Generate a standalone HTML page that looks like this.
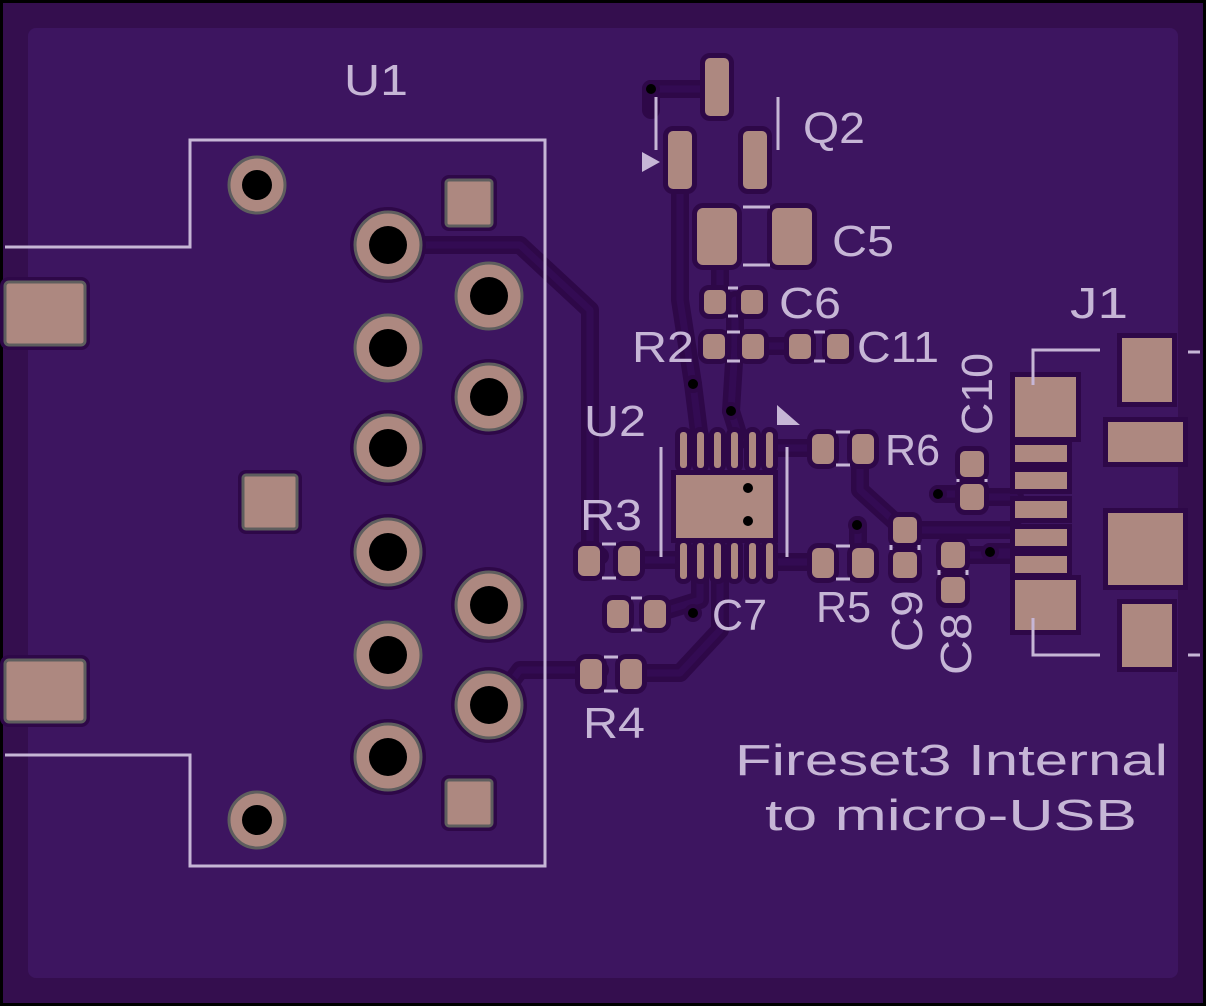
<!DOCTYPE html>
<html><head><meta charset="utf-8"><style>
html,body{margin:0;padding:0;background:#000}
svg{display:block}
text{font-family:"Liberation Sans",sans-serif;fill:#c6b6d6}
</style></head><body>
<svg width="1206" height="1006" viewBox="0 0 1206 1006" xmlns="http://www.w3.org/2000/svg">
<rect x="0" y="0" width="1206" height="1006" fill="#000"/>
<rect x="3" y="3" width="1200" height="1000" fill="#340e4e"/>
<rect x="28" y="28" width="1150" height="950" rx="8" fill="#3d1560"/>

<!-- traces (clearance + copper) -->
<g fill="none" stroke-linejoin="round" stroke-linecap="round">
<g stroke="#2e0848" stroke-width="18">
<path d="M410 245 H520 L590 310 V556 H600"/>
<path d="M505 690 L520 670 H600"/>
<path d="M651 89 H716"/><path d="M651 89 V110"/>
<path d="M680 180 V300 L693 384 L700 440"/>
<path d="M720 250 V300 M735 300 V346 L731 411 L740 440"/>
<path d="M753 346 H805"/>
<path d="M640 560 H683 M700 575 V600 L655 614"/>
<path d="M631 673 H680 L720 630 V575"/>
<path d="M858 448 H860 V490 L904 530 M904 530 H1015"/>
<path d="M858 562 V525"/>
<path d="M938 494 H972 M972 497 H1015"/>
<path d="M953 555 H1015 M990 552 H1015"/>
<path d="M770 562 H825 M770 448 H825"/>
</g>
<g stroke="#330b53" stroke-width="7">
<path d="M410 245 H520 L590 310 V556 H600"/>
<path d="M505 690 L520 670 H600"/>
<path d="M651 89 H716"/>
<path d="M680 180 V300 L693 384 L700 440"/>
<path d="M720 250 V300 M735 300 V346 L731 411 L740 440"/>
<path d="M753 346 H805"/>
<path d="M640 560 H683 M700 575 V600 L655 614"/>
<path d="M631 673 H680 L720 630 V575"/>
<path d="M858 448 H860 V490 L904 530 M904 530 H1015"/>
<path d="M858 562 V525"/>
<path d="M938 494 H972 M972 497 H1015"/>
<path d="M953 555 H1015 M990 552 H1015"/>
<path d="M770 562 H825 M770 448 H825"/>
</g>
</g>

<!-- U1 silkscreen -->
<path d="M5 247 H190 V140 H545 V866 H190 V755 H5" fill="none" stroke="#c6b6d6" stroke-width="3"/>
<text x="344" y="95" font-size="44" textLength="64" lengthAdjust="spacingAndGlyphs">U1</text>

<!-- U1 pads -->
<g stroke="#2e0848" stroke-width="10" fill="#2e0848">
<circle cx="388" cy="245" r="33"/><circle cx="388" cy="448" r="33"/>
<circle cx="388" cy="552" r="33"/><circle cx="388" cy="757" r="33"/>
<circle cx="489" cy="397" r="33"/><circle cx="489" cy="605" r="33"/><circle cx="489" cy="705" r="33"/>
<rect x="446" y="180" width="46" height="46" rx="3"/>
<rect x="243" y="475" width="54" height="54" rx="3"/>
<rect x="446" y="780" width="46" height="46" rx="3"/>
<rect x="5" y="282" width="80" height="63" rx="4"/>
<rect x="5" y="660" width="80" height="62" rx="4"/>
</g>
<g stroke="#5e5e5e" stroke-width="3" fill="#ad8880">
<rect x="5" y="282" width="80" height="63" rx="4"/>
<rect x="5" y="660" width="80" height="62" rx="4"/>
<rect x="446" y="180" width="46" height="46" rx="3"/>
<rect x="243" y="475" width="54" height="54" rx="3"/>
<rect x="446" y="780" width="46" height="46" rx="3"/>
<circle cx="257" cy="185" r="28"/><circle cx="257" cy="820" r="28"/>
<circle cx="388" cy="245" r="33"/><circle cx="388" cy="348" r="33"/><circle cx="388" cy="448" r="33"/>
<circle cx="388" cy="552" r="33"/><circle cx="388" cy="655" r="33"/><circle cx="388" cy="757" r="33"/>
<circle cx="489" cy="296" r="33"/><circle cx="489" cy="397" r="33"/><circle cx="489" cy="605" r="33"/><circle cx="489" cy="705" r="33"/>
</g>
<g fill="#000">
<circle cx="257" cy="185" r="15"/><circle cx="257" cy="820" r="15"/>
<circle cx="388" cy="245" r="19"/><circle cx="388" cy="348" r="19"/><circle cx="388" cy="448" r="19"/>
<circle cx="388" cy="552" r="19"/><circle cx="388" cy="655" r="19"/><circle cx="388" cy="757" r="19"/>
<circle cx="489" cy="296" r="19"/><circle cx="489" cy="397" r="19"/><circle cx="489" cy="605" r="19"/><circle cx="489" cy="705" r="19"/>
</g>

<!-- SMD pads -->
<g fill="#ad8880" stroke="#2e0848" stroke-width="10" paint-order="stroke">
<rect x="705" y="58" width="24" height="58" rx="5"/>
<rect x="668" y="131" width="24" height="58" rx="5"/>
<rect x="743" y="131" width="24" height="58" rx="5"/>
<rect x="697" y="208" width="40" height="57" rx="6"/>
<rect x="772" y="208" width="40" height="57" rx="6"/>
<rect x="704" y="290" width="22" height="24" rx="5"/><rect x="741" y="290" width="22" height="24" rx="5"/>
<rect x="703" y="334" width="22" height="25" rx="5"/><rect x="742" y="334" width="22" height="25" rx="5"/>
<rect x="789" y="334" width="22" height="25" rx="5"/><rect x="827" y="334" width="22" height="25" rx="5"/>
<rect x="676" y="475" width="97" height="63"/>
<rect x="680" y="432" width="7" height="36" rx="3"/><rect x="697" y="432" width="7" height="36" rx="3"/>
<rect x="714" y="432" width="7" height="36" rx="3"/><rect x="731" y="432" width="7" height="36" rx="3"/>
<rect x="749" y="432" width="7" height="36" rx="3"/><rect x="766" y="432" width="7" height="36" rx="3"/>
<rect x="680" y="543" width="7" height="36" rx="3"/><rect x="697" y="543" width="7" height="36" rx="3"/>
<rect x="714" y="543" width="7" height="36" rx="3"/><rect x="731" y="543" width="7" height="36" rx="3"/>
<rect x="749" y="543" width="7" height="36" rx="3"/><rect x="766" y="543" width="7" height="36" rx="3"/>
<rect x="812" y="434" width="22" height="30" rx="6"/><rect x="852" y="434" width="22" height="30" rx="6"/>
<rect x="812" y="548" width="22" height="30" rx="6"/><rect x="852" y="548" width="22" height="30" rx="6"/>
<rect x="578" y="546" width="22" height="30" rx="6"/><rect x="618" y="546" width="22" height="30" rx="6"/>
<rect x="607" y="600" width="22" height="28" rx="6"/><rect x="644" y="600" width="22" height="28" rx="6"/>
<rect x="580" y="659" width="22" height="30" rx="6"/><rect x="620" y="659" width="22" height="30" rx="6"/>
<rect x="893" y="517" width="24" height="26" rx="5"/><rect x="893" y="552" width="24" height="26" rx="5"/>
<rect x="941" y="542" width="24" height="26" rx="5"/><rect x="941" y="577" width="24" height="26" rx="5"/>
<rect x="960" y="451" width="24" height="26" rx="5"/><rect x="960" y="484" width="24" height="26" rx="5"/>
<rect x="1015" y="377" width="61" height="60"/><rect x="1015" y="580" width="61" height="50"/>
<rect x="1015" y="445" width="52" height="17"/><rect x="1015" y="472" width="52" height="17"/>
<rect x="1015" y="501" width="52" height="17"/><rect x="1015" y="529" width="52" height="17"/>
<rect x="1015" y="556" width="52" height="17"/>
<rect x="1122" y="338" width="50" height="64"/><rect x="1108" y="422" width="75" height="40"/>
<rect x="1108" y="513" width="75" height="72"/><rect x="1122" y="604" width="50" height="63"/>
</g>

<!-- vias -->
<g fill="#000" stroke="#2e0848" stroke-width="8" paint-order="stroke">
<circle cx="651" cy="89" r="5"/><circle cx="693" cy="384" r="5"/><circle cx="731" cy="411" r="5"/>
<circle cx="693" cy="613" r="5"/><circle cx="857" cy="525" r="5"/><circle cx="938" cy="494" r="5"/><circle cx="990" cy="552" r="5"/>
</g>
<g fill="#000"><circle cx="748" cy="488" r="5"/><circle cx="748" cy="521" r="5"/></g>

<!-- silkscreen -->
<g stroke="#c6b6d6" stroke-width="3" fill="none">
<path d="M656 97 V150 M778 97 V150"/>
<path d="M743 207 H770 M743 265 H770"/>
<path d="M728 288 H738 M728 316 H738"/>
<path d="M727 332 H740 M727 361 H740"/>
<path d="M814 332 H825 M814 361 H825"/>
<path d="M661 447 V557 M787 447 V557"/>
<path d="M836 432 H850 M836 465 H850 M836 546 H850 M836 579 H850"/>
<path d="M602 544 H616 M602 578 H616 M631 598 H642 M631 630 H642 M604 657 H618 M604 691 H618"/>
<path d="M891 545 V550 M919 545 V550 M939 570 V575 M967 570 V575 M958 479 V482 M986 479 V482"/>
<path d="M1033 385 V350 H1100 M1033 618 V655 H1100 M1188 352 H1200 M1188 655 H1200"/>
</g>
<path d="M642 152 L660 162 L642 172 Z" fill="#c6b6d6"/>
<path d="M777 405 L777 425 L800 425 Z" fill="#c6b6d6"/>

<g font-size="44">
<text x="803" y="143" textLength="62" lengthAdjust="spacingAndGlyphs">Q2</text>
<text x="832" y="256" textLength="62" lengthAdjust="spacingAndGlyphs">C5</text>
<text x="779" y="318" textLength="62" lengthAdjust="spacingAndGlyphs">C6</text>
<text x="632" y="362" textLength="62" lengthAdjust="spacingAndGlyphs">R2</text>
<text x="857" y="362" textLength="82" lengthAdjust="spacingAndGlyphs">C11</text>
<text x="1070" y="318" textLength="58" lengthAdjust="spacingAndGlyphs">J1</text>
<text x="584" y="436" textLength="62" lengthAdjust="spacingAndGlyphs">U2</text>
<text x="885" y="465" textLength="55" lengthAdjust="spacingAndGlyphs">R6</text>
<text x="580" y="530" textLength="62" lengthAdjust="spacingAndGlyphs">R3</text>
<text x="712" y="630" textLength="55" lengthAdjust="spacingAndGlyphs">C7</text>
<text x="816" y="622" textLength="55" lengthAdjust="spacingAndGlyphs">R5</text>
<text x="583" y="738" textLength="62" lengthAdjust="spacingAndGlyphs">R4</text>
<text transform="translate(922,652) rotate(-90)" textLength="62" lengthAdjust="spacingAndGlyphs">C9</text>
<text transform="translate(971,675) rotate(-90)" textLength="62" lengthAdjust="spacingAndGlyphs">C8</text>
<text transform="translate(992,435) rotate(-90)" textLength="82" lengthAdjust="spacingAndGlyphs">C10</text>
<text x="735" y="775" textLength="433" lengthAdjust="spacingAndGlyphs">Fireset3 Internal</text>
<text x="765" y="830" textLength="372" lengthAdjust="spacingAndGlyphs">to micro-USB</text>
</g>
</svg>
</body></html>
